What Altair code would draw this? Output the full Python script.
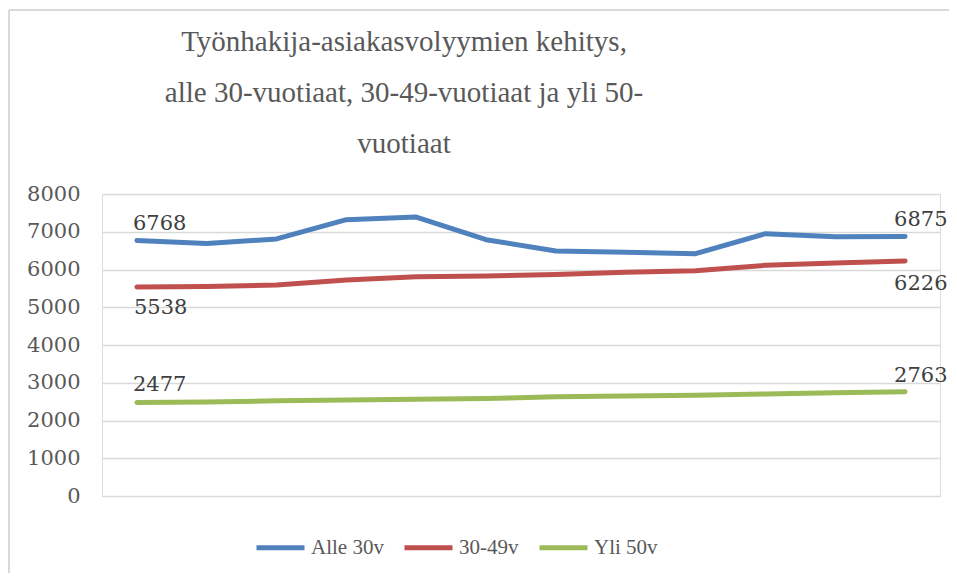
import altair as alt
import pandas as pd

# ---- data ----
periods = list(range(1, 13))
series_names = ["Alle 30v", "30-49v", "Yli 50v"]
alle_30 = [6768, 6690, 6810, 7320, 7390, 6790, 6490, 6455, 6420, 6950, 6870, 6875]
v30_49 = [5538, 5550, 5590, 5720, 5810, 5830, 5870, 5930, 5970, 6110, 6170, 6226]
yli_50 = [2477, 2490, 2520, 2540, 2560, 2580, 2630, 2650, 2670, 2700, 2735, 2763]
series_colors = ["#4F81BD", "#C0504D", "#9BBB59"]
y_ticks = [0, 1000, 2000, 3000, 4000, 5000, 6000, 7000, 8000]
title_lines = [
    "Työnhakija-asiakasvolyymien kehitys,",
    "alle 30-vuotiaat, 30-49-vuotiaat ja yli 50-",
    "vuotiaat",
]

rows = []
for name, vals in zip(series_names, [alle_30, v30_49, yli_50]):
    for p, v in zip(periods, vals):
        rows.append({"period": p, "series": name, "value": v})
df = pd.DataFrame(rows)
title_df = pd.DataFrame({"title": [title_lines]})

SERIF = "'Liberation Serif', 'DejaVu Serif', serif"
DIGITS = "'DejaVu Serif', serif"

x_enc = alt.X("period:O", axis=None, scale=alt.Scale(type="point", padding=0.5))
y_enc = alt.Y(
    "value:Q",
    scale=alt.Scale(domain=[0, 8000]),
    axis=alt.Axis(
        values=y_ticks,
        format="d",
        title=None,
        domain=False,
        ticks=False,
        labelOverlap=False,
        labelPadding=22,
        labelFont=DIGITS,
        labelFontSize=21,
        labelColor="#595959",
        gridColor="#D9D9D9",
        gridWidth=1.3,
    ),
)
color_enc = alt.Color(
    "series:N",
    scale=alt.Scale(domain=series_names, range=series_colors),
    sort=series_names,
    legend=alt.Legend(
        title=None,
        orient="none",
        direction="horizontal",
        legendX=152,
        legendY=327,
        symbolType="stroke",
        symbolSize=2304,
        symbolStrokeWidth=5,
        labelFont=SERIF,
        labelFontSize=21,
        labelColor="#595959",
        labelOffset=4,
        columnPadding=10,
    ),
)

base = alt.Chart(df)

lines = base.mark_line(strokeWidth=5, strokeCap="round", strokeJoin="round").encode(
    x=x_enc, y=y_enc, color=color_enc
)


def labels(series_sel, period, dx, dy):
    return (
        base.transform_filter(
            alt.FieldOneOfPredicate(field="series", oneOf=series_sel)
        )
        .transform_filter(alt.FieldEqualPredicate(field="period", equal=period))
        .mark_text(
            align="left",
            baseline="middle",
            dx=dx,
            dy=dy,
            font=DIGITS,
            fontSize=21,
            color="#404040",
        )
        .encode(x=x_enc, y=y_enc, text=alt.Text("value:Q", format="d"))
    )


first_above = labels(["Alle 30v", "Yli 50v"], periods[0], -4, -17)
first_below = labels(["30-49v"], periods[0], -3, 21)
last_above = labels(["Alle 30v", "Yli 50v"], periods[-1], -11, -16)
last_below = labels(["30-49v"], periods[-1], -11, 23)

# chart title (multi-line), drawn as a text mark
title = (
    alt.Chart(title_df)
    .mark_text(
        align="center",
        baseline="alphabetic",
        font=SERIF,
        fontSize=29,
        lineHeight=51,
        color="#595959",
    )
    .encode(x=alt.value(302), y=alt.value(-143), text="title")
)

# light frame of the chart area (top and left edges)
frame_top = base.mark_rule(color="#D9D9D9", strokeWidth=1.5).encode(
    x=alt.value(-93), x2=alt.value(860), y=alt.value(-184)
)
frame_left = base.mark_rule(color="#D9D9D9", strokeWidth=1.5).encode(
    x=alt.value(-93), y=alt.value(-184), y2=alt.value(400)
)

chart = (
    alt.layer(
        frame_top, frame_left, title, lines,
        first_above, first_below, last_above, last_below,
    )
    .properties(
        width=838,
        height=302,
        padding={"left": 94, "top": 186, "right": 9, "bottom": 77},
        autosize=alt.AutoSizeParams(type="none"),
    )
    .configure_view(strokeWidth=0, stroke="transparent")
    .configure(background="white")
)

chart.save("out.html", embed_options={"renderer": "svg", "actions": False})
